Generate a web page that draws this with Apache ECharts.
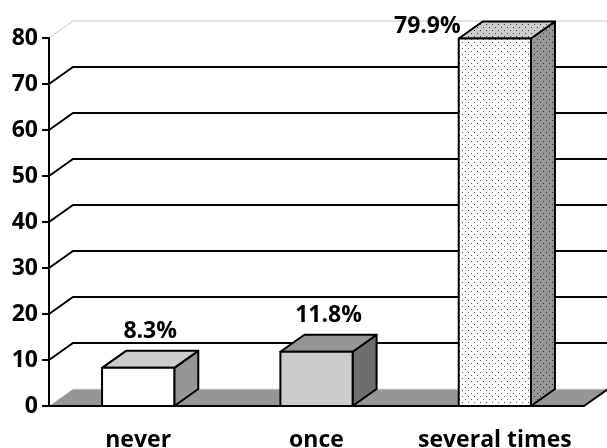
<!DOCTYPE html>
<html>
<head>
<meta charset="utf-8">
<script src="https://cdn.jsdelivr.net/npm/echarts@6/dist/echarts.min.js"></script>
<style>
  html, body { margin: 0; padding: 0; background: #fff; }
  #chart { width: 607px; height: 448px; }
</style>
</head>
<body>
<div id="chart"></div>
<script>
// data
var categories = ["never", "once", "several times"];
var values = [8.3, 11.8, 79.9];
var valueLabels = ["8.3%", "11.8%", "79.9%"];
var gridTicks = [10, 20, 30, 40, 50, 60, 70, 80];

// 3d depth of the walls / bars
var DX = 24, DY = -17;
var FONT = "Open Sans";

// dotted fill for the last bar
function dots(bg, dot) {
  var c = document.createElement("canvas");
  c.width = 6; c.height = 6;
  var ctx = c.getContext("2d");
  ctx.fillStyle = bg;
  ctx.fillRect(0, 0, 6, 6);
  ctx.fillStyle = dot;
  ctx.fillRect(0, 0, 1, 1);
  ctx.fillRect(3, 3, 1, 1);
  return { image: c, repeat: "repeat" };
}

var barStyles = [
  { front: "#ffffff", top: "#cccccc", side: "#969696" },
  { front: "#cccccc", top: "#969696", side: "#6e6e6e" },
  { front: dots("#ffffff", "#555555"), top: dots("#cccccc", "#444444"), side: dots("#969696", "#333333") }
];

var chart = echarts.init(document.getElementById("chart"));

function renderFloor(params, api) {
  var cs = params.coordSys;
  var y = api.coord([0, 0])[1];
  var x0 = cs.x, x1 = cs.x + cs.width;
  return {
    type: "group",
    children: [
      {
        type: "polygon",
        shape: { points: [[x0, y], [x1, y], [x1 + DX, y + DY], [x0 + DX, y + DY]] },
        style: { fill: "#969696", stroke: null }
      },
      {
        type: "polyline",
        shape: { points: [[x0, y], [x0 + DX, y + DY], [x1 + DX, y + DY]] },
        style: { stroke: "#dddddd", lineWidth: 1, fill: null }
      },
      {
        type: "line",
        shape: { x1: x1, y1: y, x2: x1 + DX, y2: y + DY },
        style: { stroke: "#000", lineWidth: 2 }
      }
    ]
  };
}

function renderGrid(params, api) {
  var cs = params.coordSys;
  var v = api.value(1);
  var y = api.coord([0, v])[1];
  var last = v === gridTicks[gridTicks.length - 1];
  return {
    type: "polyline",
    shape: { points: [[cs.x, y], [cs.x + DX, y + DY], [cs.x + cs.width + DX, y + DY]] },
    style: { stroke: last ? "#c8c8c8" : "#000", lineWidth: last ? 1 : 2, fill: null }
  };
}

function renderBar(params, api) {
  var i = api.value(0);
  var v = api.value(1);
  var base = api.coord([i, 0]);
  var top = api.coord([i, v]);
  var w = api.size([1, 0])[0] * 0.405;
  var x0 = base[0] - w / 2, x1 = base[0] + w / 2;
  var y0 = base[1], y1 = top[1];
  var st = barStyles[i];
  var line = { stroke: "#000", lineWidth: 2, lineJoin: "round" };
  var label;
  if (y1 + DY - 22 < params.coordSys.y) {
    // no room above: put it to the left of the bar top
    label = { x: x0 + 2, y: y1 - 12, align: "right" };
  } else {
    label = { x: base[0] + DX / 2, y: y1 + DY - 19, align: "center" };
  }
  return {
    type: "group",
    children: [
      {
        type: "polygon",
        shape: { points: [[x1, y0], [x1 + DX, y0 + DY], [x1 + DX, y1 + DY], [x1, y1]] },
        style: Object.assign({ fill: st.side }, line)
      },
      {
        type: "polygon",
        shape: { points: [[x0, y1], [x1, y1], [x1 + DX, y1 + DY], [x0 + DX, y1 + DY]] },
        style: Object.assign({ fill: st.top }, line)
      },
      {
        type: "rect",
        shape: { x: x0, y: y1, width: w, height: y0 - y1 },
        style: Object.assign({ fill: st.front }, line)
      },
      {
        type: "text",
        x: label.x,
        y: label.y,
        style: {
          text: valueLabels[i],
          fontFamily: FONT,
          fontWeight: "bold",
          fontSize: 23,
          fill: "#000",
          align: label.align,
          verticalAlign: "middle"
        }
      }
    ]
  };
}

var option = {
  animation: false,
  grid: { left: 49, right: 23, top: 38, bottom: 42, outerBoundsMode: "none" },
  xAxis: {
    type: "category",
    data: categories,
    z: 10,
    axisLine: { lineStyle: { color: "#000", width: 2 } },
    axisTick: { length: 6, lineStyle: { color: "#000", width: 2 } },
    axisLabel: { interval: 0, margin: 23, color: "#000", fontFamily: FONT, fontWeight: "bold", fontSize: 23 }
  },
  yAxis: {
    type: "value",
    min: 0,
    max: 80,
    interval: 10,
    z: 10,
    splitLine: { show: false },
    axisLine: { show: true, lineStyle: { color: "#000", width: 2 } },
    axisTick: { show: true, length: 7, lineStyle: { color: "#000", width: 2 } },
    axisLabel: { margin: 11, color: "#000", fontFamily: FONT, fontWeight: "bold", fontSize: 23 }
  },
  series: [
    { type: "custom", z: 1, renderItem: renderFloor, data: [[0, 0]] },
    {
      type: "custom",
      z: 2,
      renderItem: renderGrid,
      data: gridTicks.map(function (t) { return [0, t]; })
    },
    {
      type: "custom",
      z: 3,
      renderItem: renderBar,
      data: values.map(function (v, i) { return [i, v]; })
    }
  ]
};

chart.setOption(option);
</script>
</body>
</html>
